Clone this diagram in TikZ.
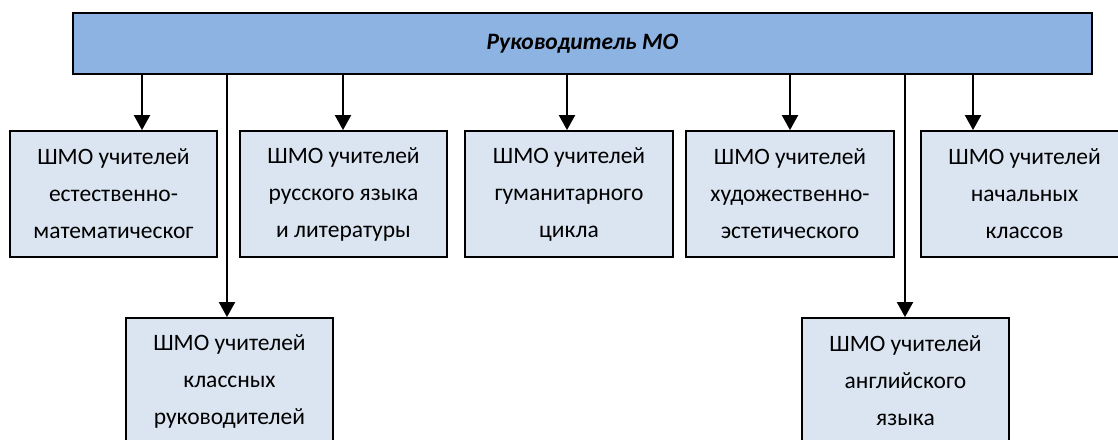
\documentclass[tikz,border=0pt]{standalone}
\usepackage{fontspec}
\setmainfont{Carlito}
\usetikzlibrary{arrows.meta}
\definecolor{topblue}{HTML}{8DB3E2}
\definecolor{boxblue}{HTML}{DBE5F1}
\begin{document}
\begin{tikzpicture}[x=1pt,y=-1pt,
  unitbox/.style={draw=black, line width=1.8pt, fill=boxblue, minimum width=207pt, minimum height=126pt, inner sep=0pt, align=center, font=\fontsize{23.5}{37}\selectfont},
  headbox/.style={draw=black, line width=1.8pt, fill=topblue, minimum width=1019pt, minimum height=61pt, inner sep=0pt, font=\fontsize{23.5}{28}\selectfont\bfseries\itshape},
  conn/.style={line width=2pt},
  arr/.style={conn, -{Triangle[width=16pt,length=15pt]}}]
\useasboundingbox (0,0) rectangle (1118,439);
\clip (0,0) rectangle (1118,439);
\fill[white] (0,0) rectangle (1118,439);

\node[headbox] (top) at (582.5,43.5) {Руководитель МО};

\node[unitbox] (b1) at (113.5,194) {ШМО учителей\\естественно-\\математическог};
\node[unitbox] (b2) at (343.5,194) {ШМО учителей\\русского языка\\и литературы};
\node[unitbox, minimum width=208pt] (b3) at (569,194) {ШМО учителей\\гуманитарного\\цикла};
\node[unitbox, minimum width=208pt] (b4) at (790,194) {ШМО учителей\\художественно-\\эстетического};
\node[unitbox] (b5) at (1024.5,194) {ШМО учителей\\начальных\\классов};
\node[unitbox] (b6) at (229.5,381) {ШМО учителей\\классных\\руководителей};
\node[unitbox] (b7) at (905.5,381) {ШМО учителей\\английского\\языка};

\coordinate (a1) at (142,0);
\coordinate (a2) at (343,0);
\coordinate (a3) at (567,0);
\coordinate (a4) at (790,0);
\coordinate (a5) at (973,0);
\coordinate (a6) at (227,0);
\coordinate (a7) at (905,0);

\draw[arr] (top.south -| a1) -- (b1.north -| a1);
\draw[arr] (top.south -| a2) -- (b2.north -| a2);
\draw[arr] (top.south -| a3) -- (b3.north -| a3);
\draw[arr] (top.south -| a4) -- (b4.north -| a4);
\draw[arr] (top.south -| a5) -- (b5.north -| a5);
\draw[arr] (top.south -| a6) -- (b6.north -| a6);
\draw[arr] (top.south -| a7) -- (b7.north -| a7);
\end{tikzpicture}
\end{document}
